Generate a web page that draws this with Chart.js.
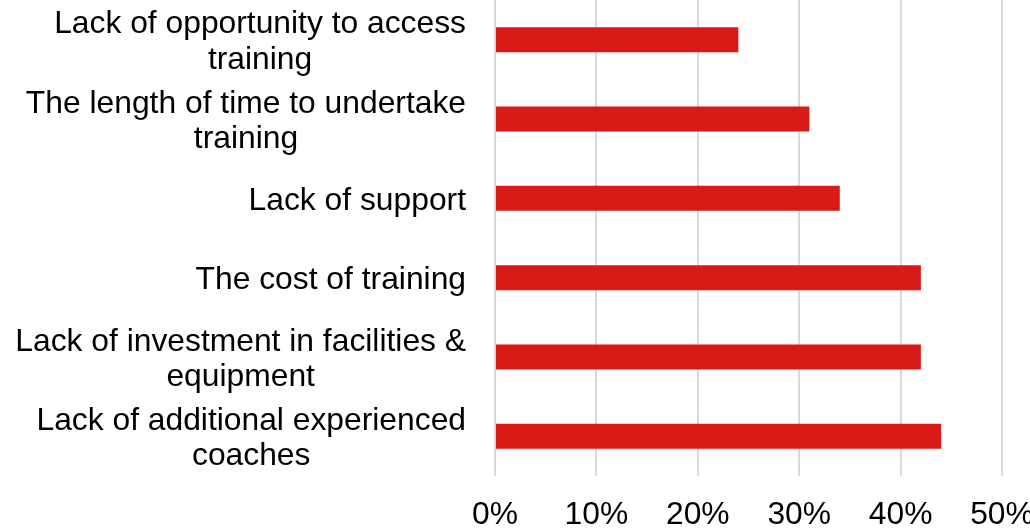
<!DOCTYPE html>
<html>
<head>
<meta charset="utf-8">
<script src="https://cdn.jsdelivr.net/npm/chart.js@4.4.1/dist/chart.umd.min.js"></script>
<style>
  html, body { margin: 0; padding: 0; background: #ffffff; }
  canvas { display: block; }
</style>
</head>
<body>
<canvas id="chart" width="1030" height="529"></canvas>
<script>
// Barriers to coach training, share of respondents (%)
const categoryLines = [
  ['Lack of opportunity to access', 'training'],
  ['The length of time to undertake', 'training'],
  ['Lack of support'],
  ['The cost of training'],
  ['Lack of investment in facilities &', 'equipment'],
  ['Lack of additional experienced', 'coaches']
];
const shares = [24, 31, 34, 42, 42, 44];
const xTickValues = [0, 10, 20, 30, 40, 50];

const FONT_FAMILY = '"Liberation Sans", Arial, Helvetica, sans-serif';
const FONT_SIZE = 31.8;
const BAR_RED = '#da1a16';

// Category labels: each multi-line block is centred on its own widest line,
// and the block as a whole is right-aligned against the plot.
const categoryLabelPlugin = {
  id: 'categoryLabels',
  afterDraw(chart) {
    const ctx = chart.ctx;
    const yScale = chart.scales.y;
    const rightEdge = chart.chartArea.left - 29;
    const lineGap = 35.5;
    const capHalf = FONT_SIZE * 0.716 / 2;
    ctx.save();
    ctx.font = FONT_SIZE + 'px ' + FONT_FAMILY;
    ctx.fillStyle = '#000000';
    ctx.textAlign = 'center';
    ctx.textBaseline = 'alphabetic';
    categoryLines.forEach((lines, i) => {
      const cy = yScale.getPixelForValue(i);
      const widest = Math.max(...lines.map(l => ctx.measureText(l).width));
      const cx = rightEdge - widest / 2;
      const firstCenter = cy - (lines.length - 1) * lineGap / 2;
      lines.forEach((line, j) => {
        ctx.fillText(line, cx, firstCenter + j * lineGap + capHalf);
      });
    });
    ctx.restore();
  }
};

new Chart(document.getElementById('chart'), {
  type: 'bar',
  data: {
    labels: categoryLines.map(l => l.join(' ')),
    datasets: [{
      data: shares,
      backgroundColor: BAR_RED,
      borderWidth: 0,
      categoryPercentage: 1,
      barPercentage: 0.315
    }]
  },
  options: {
    indexAxis: 'y',
    responsive: false,
    animation: false,
    layout: { padding: { top: -1, right: 28, bottom: 0, left: 0 } },
    plugins: {
      legend: { display: false },
      tooltip: { enabled: false }
    },
    scales: {
      x: {
        min: xTickValues[0],
        max: xTickValues[xTickValues.length - 1],
        afterBuildTicks(scale) {
          scale.ticks = xTickValues.map(v => ({ value: v }));
        },
        afterFit(scale) {
          scale.height = 53;
          scale.paddingLeft = 0;
          scale.paddingRight = 0;
        },
        grid: {
          color: '#d9d9d9',
          lineWidth: 2,
          drawTicks: false
        },
        border: { display: false },
        ticks: {
          padding: 20,
          color: '#000000',
          maxRotation: 0,
          autoSkip: false,
          font: { family: FONT_FAMILY, size: FONT_SIZE },
          callback: v => v + '%'
        }
      },
      y: {
        afterFit(scale) {
          scale.width = 495;
        },
        grid: { display: false },
        border: { display: false },
        ticks: { display: false }
      }
    }
  },
  plugins: [categoryLabelPlugin]
});
</script>
</body>
</html>
